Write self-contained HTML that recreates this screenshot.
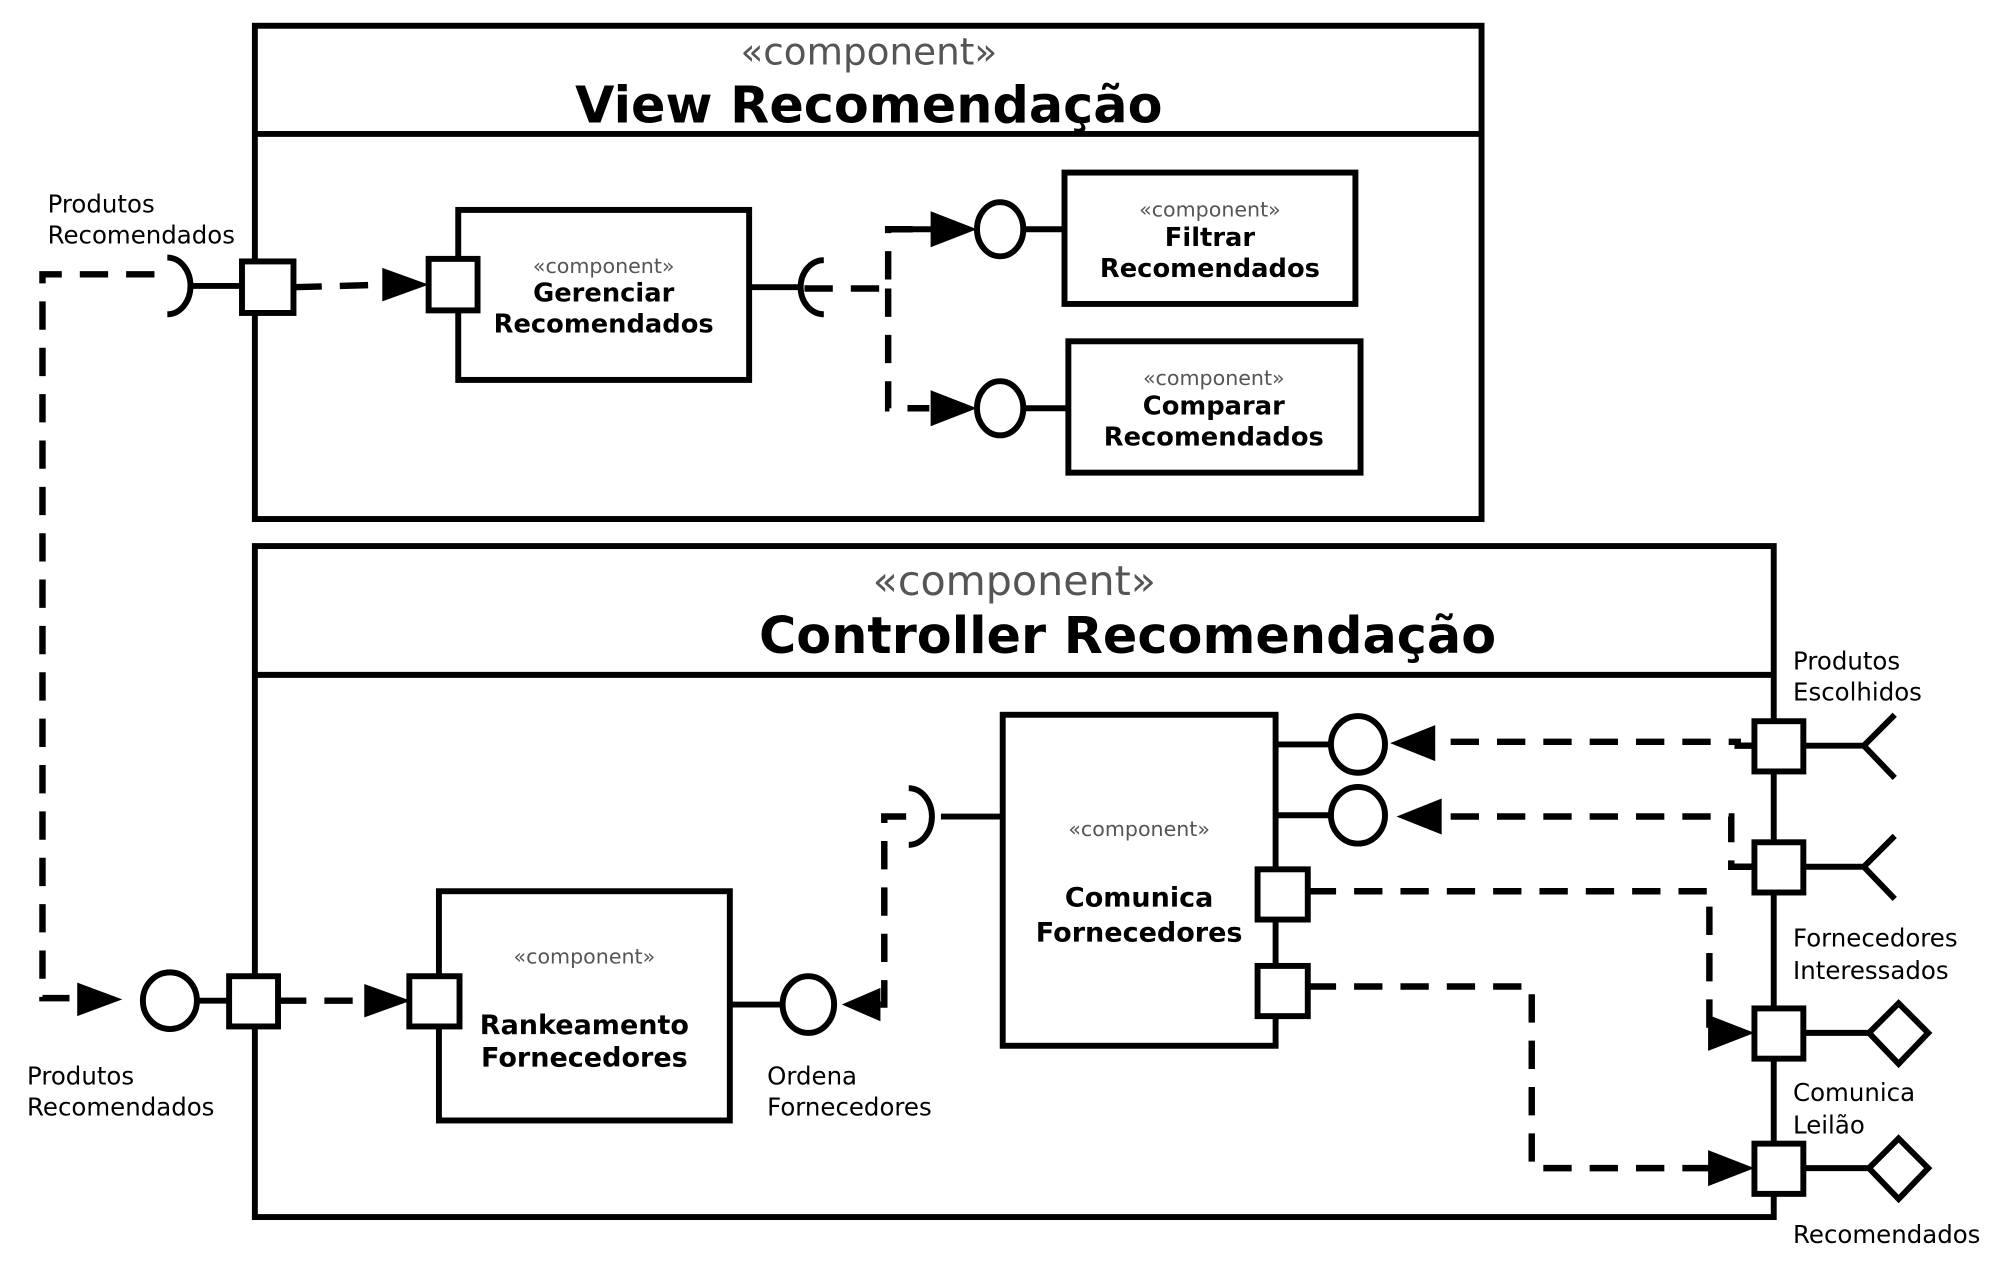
<!DOCTYPE html>
<html><head><meta charset="utf-8"><style>
html,body{margin:0;padding:0;background:#fff;}
svg{display:block}
text{font-family:"DejaVu Sans","Liberation Sans",sans-serif;}
.s{fill:none;stroke:#000;stroke-width:4.6;}
.d{fill:none;stroke:#000;stroke-width:5;stroke-dasharray:22 14;}
.w{fill:#fff;stroke:#000;stroke-width:4.6;}
.lab{font-size:19px;fill:#000;}
.st{fill:#555;}
.b{font-weight:bold;fill:#000;}
</style></head><body>
<svg width="2008" height="1266" viewBox="0 0 1560 983" preserveAspectRatio="none" xmlns="http://www.w3.org/2000/svg">
<!-- View -->
<rect x="198" y="20" width="953" height="383" class="s"/>
<line x1="198" y1="104" x2="1151" y2="104" class="s"/>
<text x="675" y="50" text-anchor="middle" font-size="29" class="st">«component»</text>
<text x="675" y="95" text-anchor="middle" font-size="39.5" class="b">View Recomendação</text>
<text x="37" y="165" class="lab">Produtos</text>
<text x="37" y="189" class="lab">Recomendados</text>
<path d="M130,200 A18,22 0 0 1 130,244" class="s"/>
<line x1="149" y1="222" x2="188" y2="222" class="s"/>
<rect x="188" y="203" width="40" height="40" class="w"/>
<polyline points="120,213 33,213 33,775 60,775" class="d"/>
<polygon points="60,763 95,776 60,789" fill="#000"/>
<line x1="228" y1="223" x2="300" y2="221" class="d"/>
<polygon points="297,208 333,221 297,234" fill="#000"/>
<rect x="356" y="163" width="226" height="132" class="s"/>
<rect x="333" y="201" width="38" height="40" class="w"/>
<text x="469" y="212" text-anchor="middle" font-size="16" class="st">«component»</text>
<text x="469" y="234" text-anchor="middle" font-size="20" class="b">Gerenciar</text>
<text x="469" y="258" text-anchor="middle" font-size="20" class="b">Recomendados</text>
<line x1="582" y1="223" x2="622" y2="223" class="s"/>
<path d="M640,202 A18,21 0 0 0 640,244" class="s"/>
<polyline points="625,224 690,224 690,178 722,178" class="d"/>
<polyline points="690,224 690,317 722,317" class="d"/>
<line x1="705" y1="178" x2="725" y2="178" class="s"/>
<polygon points="723,164 759,178 723,192" fill="#000"/>
<polygon points="723,303 759,317 723,331" fill="#000"/>
<ellipse cx="777" cy="178" rx="18" ry="21" class="w"/>
<ellipse cx="777" cy="317" rx="18" ry="21" class="w"/>
<line x1="795" y1="178" x2="827" y2="178" class="s"/>
<line x1="795" y1="317" x2="830" y2="317" class="s"/>
<rect x="827" y="134" width="226" height="102" class="s"/>
<text x="940" y="168" text-anchor="middle" font-size="16" class="st">«component»</text>
<text x="940" y="191" text-anchor="middle" font-size="20" class="b">Filtrar</text>
<text x="940" y="215" text-anchor="middle" font-size="20" class="b">Recomendados</text>
<rect x="830" y="265" width="227" height="102" class="s"/>
<text x="943" y="299" text-anchor="middle" font-size="16" class="st">«component»</text>
<text x="943" y="322" text-anchor="middle" font-size="20" class="b">Comparar</text>
<text x="943" y="346" text-anchor="middle" font-size="20" class="b">Recomendados</text>
<!-- Controller -->
<rect x="198" y="424" width="1180" height="521" class="s"/>
<line x1="198" y1="524" x2="1378" y2="524" class="s"/>
<text x="788" y="462" text-anchor="middle" font-size="32" class="st">«component»</text>
<text x="876" y="507" text-anchor="middle" font-size="39.5" class="b">Controller Recomendação</text>
<ellipse cx="132" cy="777" rx="21" ry="22" class="w"/>
<line x1="153" y1="777" x2="178" y2="777" class="s"/>
<rect x="178" y="758" width="38" height="39" class="w"/>
<text x="21" y="842" class="lab">Produtos</text>
<text x="21" y="866" class="lab">Recomendados</text>
<line x1="216" y1="777" x2="285" y2="777" class="d"/>
<polygon points="283,764 319,777 283,790" fill="#000"/>
<rect x="341" y="692" width="226" height="178" class="s"/>
<rect x="318" y="758" width="39" height="39" class="w"/>
<text x="454" y="748" text-anchor="middle" font-size="16" class="st">«component»</text>
<text x="454" y="803" text-anchor="middle" font-size="21" class="b">Rankeamento</text>
<text x="454" y="828" text-anchor="middle" font-size="21" class="b">Fornecedores</text>
<line x1="567" y1="780" x2="607" y2="780" class="s"/>
<ellipse cx="628" cy="780" rx="20" ry="22" class="w"/>
<text x="596" y="842" class="lab">Ordena</text>
<text x="596" y="866" class="lab">Fornecedores</text>
<polyline points="684,780 687,780 687,634 710,634" class="d"/>
<polygon points="684,767 654,780 684,793" fill="#000"/>
<path d="M706,612 A18,22 0 0 1 706,656" class="s"/>
<line x1="731" y1="634" x2="779" y2="634" class="s"/>
<rect x="779" y="555" width="212" height="257" class="s"/>
<text x="885" y="649" text-anchor="middle" font-size="16" class="st">«component»</text>
<text x="885" y="704" text-anchor="middle" font-size="21" class="b">Comunica</text>
<text x="885" y="731" text-anchor="middle" font-size="21" class="b">Fornecedores</text>
<line x1="991" y1="578" x2="1034" y2="578" class="s"/>
<line x1="991" y1="633" x2="1034" y2="633" class="s"/>
<ellipse cx="1055" cy="578" rx="21" ry="22" class="w"/>
<ellipse cx="1055" cy="633" rx="21" ry="22" class="w"/>
<rect x="977" y="675" width="39" height="39" class="w"/>
<rect x="977" y="750" width="39" height="39" class="w"/>
<polyline points="1362,579 1350,579 1350,576 1115,576" class="d"/>
<polygon points="1115,563 1080,577 1115,591" fill="#000"/>
<polyline points="1362,673 1345,673 1345,634 1120,634" class="d"/>
<polygon points="1120,620 1085,634 1120,648" fill="#000"/>
<polyline points="1016,692 1328,692 1328,802 1340,802" class="d"/>
<polygon points="1327,788 1363,802 1327,816" fill="#000"/>
<polyline points="1016,766 1190,766 1190,907 1330,907" class="d"/>
<polygon points="1327,893 1363,907 1327,921" fill="#000"/>
<rect x="1363" y="560" width="38" height="39" class="w"/>
<rect x="1363" y="654" width="38" height="39" class="w"/>
<rect x="1363" y="783" width="38" height="39" class="w"/>
<rect x="1363" y="888" width="38" height="39" class="w"/>
<line x1="1401" y1="579" x2="1448" y2="579" class="s"/>
<polyline points="1472,555 1448,579 1472,604" class="s"/>
<line x1="1401" y1="673" x2="1448" y2="673" class="s"/>
<polyline points="1472,649 1448,673 1472,698" class="s"/>
<line x1="1401" y1="802" x2="1452" y2="802" class="s"/>
<polygon points="1452,802 1475,779 1498,802 1475,826" class="w"/>
<line x1="1401" y1="907" x2="1452" y2="907" class="s"/>
<polygon points="1452,907 1475,884 1498,907 1475,931" class="w"/>
<text x="1393" y="520" class="lab">Produtos</text>
<text x="1393" y="544" class="lab">Escolhidos</text>
<text x="1393" y="735" class="lab">Fornecedores</text>
<text x="1393" y="760" class="lab">Interessados</text>
<text x="1393" y="855" class="lab">Comunica</text>
<text x="1393" y="880" class="lab">Leilão</text>
<text x="1393" y="965" class="lab">Recomendados</text>
</svg>
</body></html>
